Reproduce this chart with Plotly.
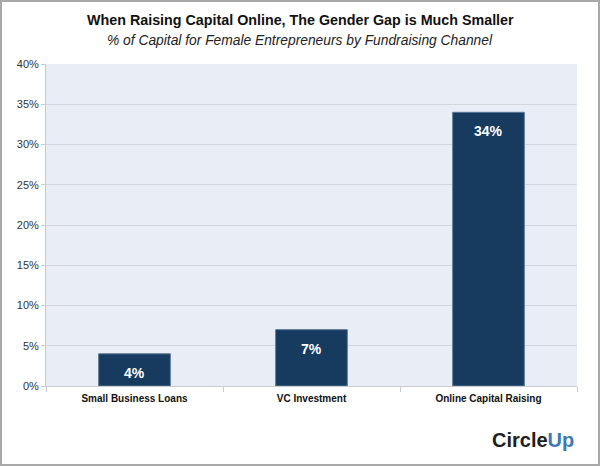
import plotly.graph_objects as go

categories = ["Small Business Loans", "VC Investment", "Online Capital Raising"]
values = [4, 7, 34]
labels = ["4%", "7%", "34%"]
y_ticks = [0, 5, 10, 15, 20, 25, 30, 35, 40]
y_tick_text = [f"{v}%" for v in y_ticks]

W, H = 600, 466
ml, mr, mt, mb = 46, 23, 64, 80
pw, ph = W - ml - mr, H - mt - mb

fig = go.Figure(go.Bar(
    x=categories, y=values,
    marker=dict(color="#173a5f", line=dict(color="#5a7896", width=1)),
    width=0.405,
))

annotations = [
    dict(x=c, y=v, text=f"<b>{t}</b>", xref="x", yref="y", showarrow=False,
         yanchor="middle", yshift=-19,
         font=dict(size=14, color="white", family="Liberation Sans, Arial"))
    for c, v, t in zip(categories, values, labels)
]

annotations += [
    dict(text="<b>When Raising Capital Online, The Gender Gap is Much Smaller</b>",
         xref="paper", yref="paper", x=(300 - ml) / pw, y=1 + (mt - 20) / ph,
         xanchor="center", yanchor="middle", showarrow=False,
         font=dict(size=14.3, color="#111")),
    dict(text="<i>% of Capital for Female Entrepreneurs by Fundraising Channel</i>",
         xref="paper", yref="paper", x=(300 - ml) / pw, y=1 + (mt - 40) / ph,
         xanchor="center", yanchor="middle", showarrow=False,
         font=dict(size=13.8, color="#222")),
    dict(text="<b><span style='color:#1f1f1f'>Circle</span><span style='color:#3d7ab3'>Up</span></b>",
         xref="paper", yref="paper", x=(576 - ml) / pw, y=-(440 - mt - ph) / ph,
         xanchor="right", yanchor="middle", showarrow=False,
         font=dict(size=20, family="Liberation Sans, Arial")),
]

fig.update_layout(
    width=W, height=H,
    margin=dict(l=ml, r=mr, t=mt, b=mb),
    paper_bgcolor="white", plot_bgcolor="#e9edf5",
    font=dict(family="Liberation Sans, Arial", color="#333"),
    showlegend=False,
    xaxis=dict(
        tickfont=dict(size=10, color="#111", family="Liberation Sans, Arial"),
        tickprefix="<b>", ticksuffix="</b>",
        showline=True, linecolor="#c8ccd2", linewidth=1,
        ticks="outside", tickson="boundaries", ticklen=5, tickcolor="#c8ccd2",
        ticklabelstandoff=3,
        showgrid=False,
    ),
    yaxis=dict(
        range=[0, 40], tickvals=y_ticks, ticktext=y_tick_text,
        tickfont=dict(size=11, color="#333"),
        showline=True, linecolor="#c8ccd2", linewidth=1,
        ticks="outside", ticklen=4, tickcolor="#c8ccd2",
        gridcolor="#d2d6dd", gridwidth=1, zeroline=False,
    ),
    annotations=annotations,
    shapes=[
        dict(type="rect", xref="paper", yref="paper",
             x0=-(ml - 1) / pw, x1=(W - ml - 1) / pw,
             y0=-(mb - 1) / ph, y1=1 + (mt - 1) / ph,
             line=dict(color="#a9a9a9", width=2), fillcolor="rgba(0,0,0,0)", layer="above"),
    ],
)

fig.write_html("out.html", config={"displayModeBar": False},
               post_script="document.body.style.margin='0';")
